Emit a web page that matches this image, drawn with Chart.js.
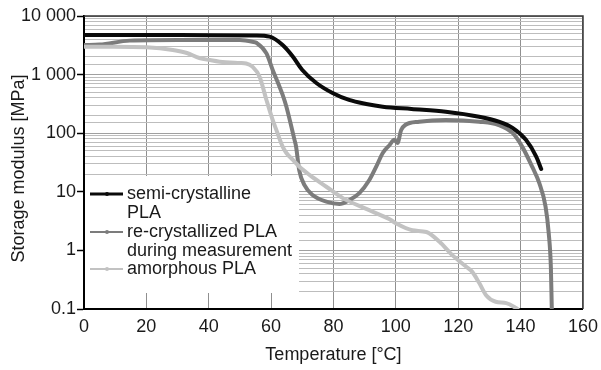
<!DOCTYPE html>
<html>
<head>
<meta charset="utf-8">
<script src="https://cdn.jsdelivr.net/npm/chart.js@4/dist/chart.umd.min.js"></script>
<style>
  html, body { margin: 0; padding: 0; background: #fff; }
  #wrap { width: 601px; height: 370px; }
</style>
</head>
<body>
<div id="wrap"><canvas id="c" width="601" height="370"></canvas></div>
<script>
// ---- data ----
const seriesNames = ['semi-crystalline PLA', 're-crystallized PLA during measurement', 'amorphous PLA'];
const legendLines = [['semi-crystalline', 'PLA'], ['re-crystallized PLA', 'during measurement'], ['amorphous PLA']];

const tempSemi = [0, 20, 40, 55, 59.5, 63.7, 67, 70, 74.5, 79.7, 85, 90.5, 95.8, 105, 116, 126.7, 133, 137.4, 141.7, 145, 146.6];
const modSemi  = [4750, 4750, 4700, 4650, 4440, 3200, 2020, 1200, 720, 486, 369, 315, 283, 259, 233, 191, 157, 123, 77, 40, 24.5];

const tempRe = [0, 5, 14.7, 30, 50, 54, 55.4, 58.5, 60.5, 62.7, 63.7, 64.9, 66.5, 67.5, 68, 69, 70.7, 73.3, 77.7, 81.9, 85, 88.3, 91.5, 93.7, 95.8, 98, 99.5, 100.5, 101.7, 103, 107.5, 116, 126.7, 133, 137.4, 140.5, 143.7, 146, 148, 149, 149.7, 150];
const modRe  = [3200, 3250, 3800, 3890, 3890, 3640, 3460, 2300, 1200, 621, 450, 283, 129, 77, 59, 23.5, 13, 8.8, 6.8, 6.2, 7.2, 9.5, 15.9, 26.8, 46, 63, 77, 68, 113, 138, 157, 168, 157, 138, 101, 59, 26.8, 14, 5.6, 2.0, 0.52, 0.1];

const tempAm = [0, 9.3, 20, 28.5, 33, 37, 40.3, 43.5, 50, 52, 54, 56.3, 58.5, 60.5, 61.7, 63.7, 64.9, 67, 69, 72.3, 77.7, 83, 90.5, 98, 100, 105.3, 109.8, 114, 118, 122.5, 124.5, 126.7, 129, 132, 135.4, 138.5, 139];
const modAm  = [3000, 3000, 2930, 2630, 2340, 1920, 1770, 1660, 1580, 1550, 1365, 920, 369, 168, 113, 59, 46, 35, 27, 19.4, 12.2, 7.8, 5.1, 3.4, 2.9, 2.2, 2.06, 1.4, 0.84, 0.53, 0.43, 0.28, 0.17, 0.133, 0.126, 0.104, 0.1];

const yTickValues = [0.1, 1, 10, 100, 1000, 10000];
const yTickLabels = ['0.1', '1', '10', '100', '1 000', '10 000'];
const xTickValues = [0, 20, 40, 60, 80, 100, 120, 140, 160];

const xTitle = 'Temperature [°C]';
const yTitle = 'Storage modulus [MPa]';

// ---- styling ----
const colors = ['#0a0a0a', '#7c7c7c', '#c2c2c2'];
const FONT = "'Liberation Sans', Arial, Helvetica, sans-serif";

function toPoints(xs, ys) { return xs.map((x, i) => ({ x: x, y: ys[i] })); }
function isDecade(v) { const l = Math.log10(v); return Math.abs(l - Math.round(l)) < 1e-6; }

const legendPlugin = {
  id: 'boxLegend',
  beforeDatasetsDraw(chart) {
    const ctx = chart.ctx;
    const a = chart.chartArea;
    ctx.save();
    ctx.fillStyle = '#ffffff';
    ctx.fillRect(a.left + 1, 176, 214, 117);
    ctx.restore();
  },
  afterDatasetsDraw(chart) {
    const ctx = chart.ctx;
    const a = chart.chartArea;
    ctx.save();
    // frame top/right
    ctx.strokeStyle = '#333';
    ctx.lineWidth = 1.5;
    ctx.beginPath();
    ctx.moveTo(a.left, a.top);
    ctx.lineTo(a.right, a.top);
    ctx.lineTo(a.right, a.bottom);
    ctx.stroke();
    // y axis title
    ctx.save();
    ctx.translate(19, 168.5);
    ctx.rotate(-Math.PI / 2);
    ctx.font = '18px ' + FONT;
    ctx.fillStyle = '#1a1a1a';
    ctx.textAlign = 'center';
    ctx.textBaseline = 'middle';
    ctx.fillText(yTitle, 0, 0);
    ctx.restore();
    // legend
    const rowY = [194, 232, 269];
    const lh = 18.7;
    ctx.font = '18px ' + FONT;
    ctx.textBaseline = 'middle';
    ctx.textAlign = 'left';
    for (let i = 0; i < seriesNames.length; i++) {
      const y = rowY[i];
      ctx.strokeStyle = colors[i];
      ctx.lineWidth = i === 0 ? 3 : 2.2;
      ctx.beginPath();
      ctx.moveTo(90, y);
      ctx.lineTo(123, y);
      ctx.stroke();
      ctx.fillStyle = colors[i];
      ctx.beginPath();
      ctx.arc(107, y, 2, 0, Math.PI * 2);
      ctx.fill();
      ctx.fillStyle = '#1a1a1a';
      legendLines[i].forEach((t, k) => ctx.fillText(t, 127, y + k * lh));
    }
    ctx.restore();
  }
};

new Chart(document.getElementById('c'), {
  type: 'line',
  data: {
    datasets: [
      { label: seriesNames[0], data: toPoints(tempSemi, modSemi), borderColor: colors[0], borderWidth: 4, order: 0 },
      { label: seriesNames[1], data: toPoints(tempRe, modRe), borderColor: colors[1], borderWidth: 4, order: 2 },
      { label: seriesNames[2], data: toPoints(tempAm, modAm), borderColor: colors[2], borderWidth: 4, order: 1 }
    ]
  },
  options: {
    responsive: false,
    animation: false,
    devicePixelRatio: 1,
    parsing: false,
    layout: { padding: { top: 16, right: 17, left: 0, bottom: 0 } },
    elements: {
      point: { radius: 0, hoverRadius: 0 },
      line: { cubicInterpolationMode: 'monotone', borderCapStyle: 'round', borderJoinStyle: 'round', fill: false }
    },
    plugins: { legend: { display: false }, tooltip: { enabled: false } },
    scales: {
      x: {
        type: 'linear',
        min: 0, max: 160,
        afterFit(s) { s.height = 61; },
        afterBuildTicks(s) { s.ticks = xTickValues.map(v => ({ value: v })); },
        border: { color: '#000', width: 2 },
        grid: { color: '#8f8f8f', lineWidth: 1, tickLength: 4, tickColor: 'rgba(0,0,0,0)' },
        ticks: { color: '#1a1a1a', font: { family: FONT, size: 18 }, padding: 3, maxRotation: 0 },
        title: { display: true, text: xTitle, color: '#1a1a1a', font: { family: FONT, size: 18 }, padding: { top: 0, bottom: 4 } }
      },
      y: {
        type: 'logarithmic',
        min: 0.1, max: 10000,
        afterFit(s) { s.width = 84; },
        border: { color: '#000', width: 2 },
        grid: {
          color: ctx => (ctx.tick && isDecade(ctx.tick.value)) ? '#a0a0a0' : '#bdbdbd',
          lineWidth: 1,
          tickLength: 7,
          tickWidth: 1.5,
          tickColor: ctx => (ctx.tick && isDecade(ctx.tick.value)) ? '#000' : 'rgba(0,0,0,0)'
        },
        ticks: {
          autoSkip: false,
          color: '#1a1a1a',
          font: { family: FONT, size: 18 },
          padding: 1,
          callback(v) {
            const i = yTickValues.findIndex(t => Math.abs(Math.log10(t) - Math.log10(v)) < 1e-6);
            return i >= 0 ? yTickLabels[i] : '';
          }
        },
        title: { display: false }
      }
    }
  },
  plugins: [legendPlugin]
});
</script>
</body>
</html>
